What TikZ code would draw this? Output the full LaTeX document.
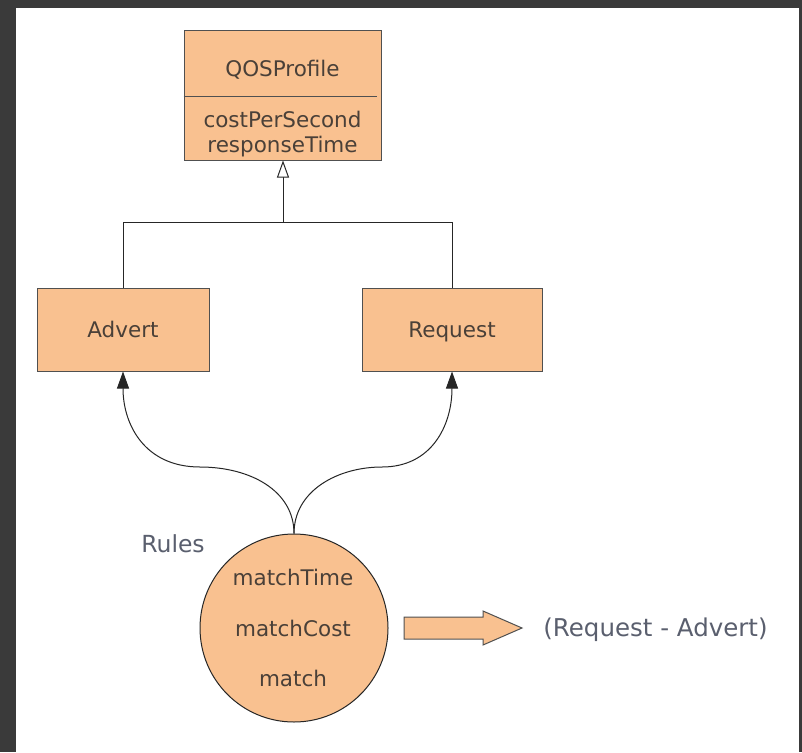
\documentclass[tikz,border=0pt]{standalone}
\usepackage{fontspec}
\setmainfont{DejaVu Sans}
\usetikzlibrary{arrows.meta}
\definecolor{boxfill}{HTML}{F9C190}
\definecolor{boxline}{HTML}{505050}
\definecolor{boxtext}{HTML}{4A4038}
\definecolor{labeltext}{HTML}{5A5F6E}
\definecolor{framedark}{HTML}{3A3A3A}
\tikzset{
  umlbox/.style={draw=boxline, fill=boxfill, line width=1pt, inner sep=0pt},
  boxlabel/.style={text=boxtext, font=\fontsize{21.5}{25}\selectfont, inner sep=0pt, anchor=base},
  freelabel/.style={text=labeltext, font=\fontsize{24.5}{28}\selectfont, inner sep=0pt, anchor=base},
  link/.style={line width=1pt, draw=black!85},
  solidhead/.style={-{Triangle[length=17pt,width=12pt]}},
  openhead/.style={-{Triangle[open,length=17pt,width=12pt,fill=white]}}
}
\begin{document}
\begin{tikzpicture}[x=1pt,y=-1pt]
\fill[framedark] (0,0) rectangle (802,752);
\fill[white] (16,8) rectangle (799,752);
\useasboundingbox (0,0) rectangle (802,752);

% QOSProfile class
\node[umlbox, minimum width=197pt, minimum height=129pt] (qos) at (282.5,95.5) {};
\draw[boxline, line width=1pt] (qos.west |- 0,96) -- (377,96);
\node[boxlabel] (qosname) at (282.5,76) {QOSProfile};
\node[boxlabel] (qosattr1) at (282.5,127) {costPerSecond};
\node[boxlabel] (qosattr2) at (282.5,152) {responseTime};

% subclasses
\node[umlbox, minimum width=172pt, minimum height=83pt] (advert) at (123,329.5) {};
\node[boxlabel] (advertlbl) at (123,337) {Advert};
\node[umlbox, minimum width=180pt, minimum height=83pt] (request) at (452,329.5) {};
\node[boxlabel] (requestlbl) at (452,337) {Request};

% inheritance
\coordinate (j) at (283,222);
\draw[link] (advert.north) -- (advert.north |- j) -- (request.north |- j) -- (request.north);
\draw[link, openhead] (j) -- (j |- qos.south);

% rules circle
\node[circle, draw=black!85, fill=boxfill, line width=1pt, minimum size=188pt, inner sep=0pt] (rules) at (294,628) {};
\node[boxlabel] (mtime) at (293,585) {matchTime};
\node[boxlabel] (mcost) at (293,636) {matchCost};
\node[boxlabel] (mmatch) at (293,686) {match};
\node[freelabel, font=\fontsize{23.5}{28}\selectfont] (ruleslbl) at (173,552) {Rules};

% curved connectors
\coordinate (ml) at (200,467);
\coordinate (mr) at (382,467);
\draw[link, solidhead] (rules.north) .. controls +(0,-43) and (250,467) .. (ml)
  .. controls (145,467) and (123,425) .. (advert.south);
\draw[link, solidhead] (rules.north) .. controls +(0,-43) and (338,467) .. (mr)
  .. controls (432,467) and (452,425) .. (request.south);

% block arrow and result
\filldraw[fill=boxfill, draw=boxline, line width=1pt]
  (404,617) -- (483,617) -- (483,611) -- (522,628) -- (483,645) -- (483,639) -- (404,639) -- cycle;
\node[freelabel] (result) at (655.5,636) {(Request - Advert)};
\end{tikzpicture}
\end{document}
